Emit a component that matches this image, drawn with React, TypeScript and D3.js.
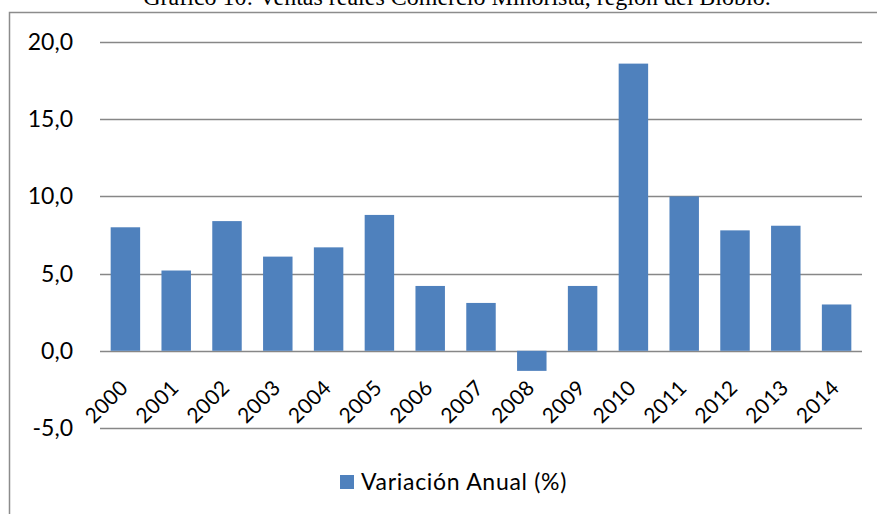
import React from "react";
import * as d3 from "d3";

const years = ["2000", "2001", "2002", "2003", "2004", "2005", "2006", "2007", "2008", "2009", "2010", "2011", "2012", "2013", "2014"];
const variacion = [8.0, 5.2, 8.4, 6.1, 6.7, 8.8, 4.2, 3.1, -1.3, 4.2, 18.6, 10.0, 7.8, 8.1, 3.0];
const yTicks = [-5, 0, 5, 10, 15, 20];
const titulo = "Gráfico 10: Ventas reales Comercio Minorista, región del Biobío.";
const serieNombre = "Variación Anual (%)";

const W = 877;
const H = 514;
const font = "Lato, 'Open Sans', sans-serif";

export default function App() {
  const x = d3.scaleBand().domain(years).range([100, 862]).paddingInner(0.42).paddingOuter(0.21);
  const y = d3.scaleLinear().domain([-5, 20]).range([428, 42]);
  const fmt = (v: number) => d3.format(".1f")(v).replace(".", ",").replace("−", "-");

  return (
    <svg width={W} height={H} style={{ position: "absolute", left: 0, top: 0, background: "#fff" }}>
      <text x={457} y={5} textAnchor="middle" fontFamily="'Times New Roman', 'Liberation Serif', serif" fontSize={24} fill="#000">
        {titulo}
      </text>
      <rect x={9.5} y={12.5} width={W + 10} height={H + 10} fill="none" stroke="#8c8c8c" strokeWidth={1.5} />
      {yTicks.map((t) => (
        <g key={t}>
          <line x1={100} x2={862} y1={Math.round(y(t)) + 0.5} y2={Math.round(y(t)) + 0.5} stroke="#878787" strokeWidth={1.3} />
          <text x={73} y={y(t) + 8} textAnchor="end" fontFamily={font} fontSize={23} fill="#000">
            {fmt(t)}
          </text>
        </g>
      ))}
      {years.map((yr, i) => {
        const v = variacion[i];
        return (
          <rect
            key={yr}
            x={x(yr)}
            y={y(Math.max(v, 0))}
            width={x.bandwidth()}
            height={Math.abs(y(v) - y(0))}
            fill="#4f81bd"
          />
        );
      })}
      {years.map((yr) => {
        const cx = (x(yr) as number) + x.bandwidth() / 2 + 4;
        return (
          <text
            key={"l" + yr}
            transform={`translate(${cx},${389}) rotate(-45)`}
            textAnchor="end"
            fontFamily={font}
            fontSize={21}
            letterSpacing={0.4}
            fill="#000"
          >
            {yr}
          </text>
        );
      })}
      <rect x={340} y={475} width={14} height={14} fill="#4f81bd" />
      <text x={361} y={490} fontFamily={font} fontSize={23} letterSpacing={0.7} fill="#000">
        {serieNombre}
      </text>
    </svg>
  );
}
